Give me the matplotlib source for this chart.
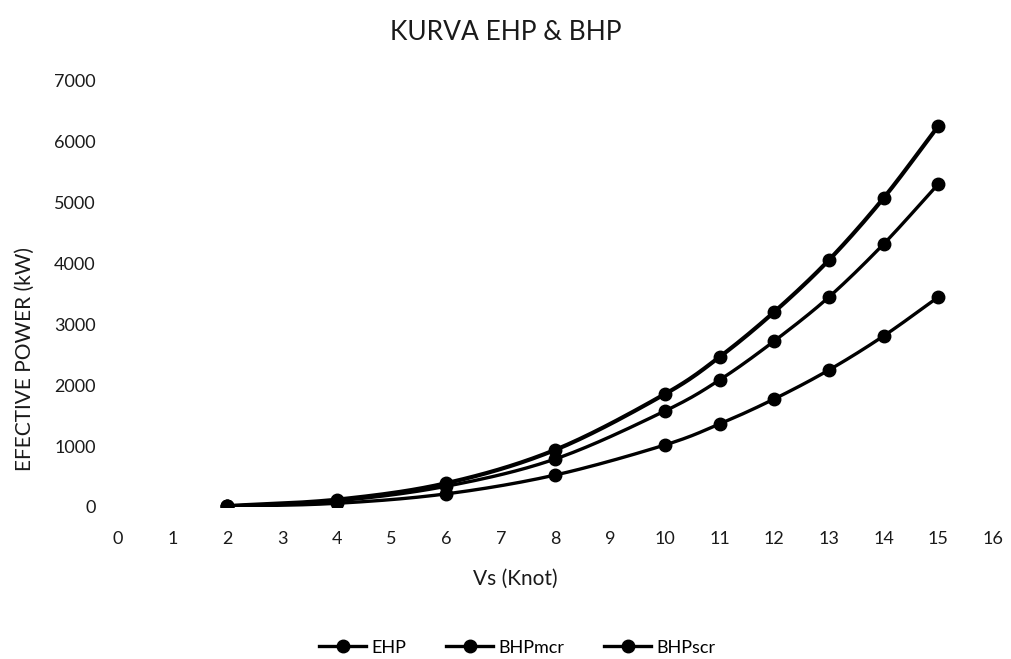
import numpy as np
import matplotlib
matplotlib.use("Agg")
import matplotlib.pyplot as plt

# Data
vs = [2, 4, 6, 8, 10, 11, 12, 13, 14, 15]
ehp = [15, 120, 390, 940, 1855, 2465, 3205, 4058, 5077, 6260]
bhp_mcr = [13, 100, 340, 790, 1577, 2087, 2727, 3450, 4321, 5307]
bhp_scr = [8, 60, 215, 526, 1019, 1364, 1775, 2251, 2810, 3450]
series_names = ["EHP", "BHPmcr", "BHPscr"]
x_ticks = list(range(0, 17))
y_ticks = list(range(0, 7001, 1000))

plt.rcParams['font.family'] = ['Lato', 'DejaVu Sans']

def smooth(x, y, n=20):
    # Catmull-Rom style smoothing (display only, like Excel's smoothed line)
    x = np.asarray(x, float); y = np.asarray(y, float)
    px = np.concatenate([[2*x[0]-x[1]], x, [2*x[-1]-x[-2]]])
    py = np.concatenate([[2*y[0]-y[1]], y, [2*y[-1]-y[-2]]])
    xs, ys = [], []
    t = np.linspace(0, 1, n)
    for i in range(1, len(px)-2):
        p0, p1, p2, p3 = [np.array([px[j], py[j]]) for j in (i-1, i, i+1, i+2)]
        c1 = p1 + (p2 - p0) / 6.0
        c2 = p2 - (p3 - p1) / 6.0
        b = ((1-t)**3)[:, None]*p1 + (3*(1-t)**2*t)[:, None]*c1 + (3*(1-t)*t**2)[:, None]*c2 + (t**3)[:, None]*p2
        xs.extend(b[:, 0]); ys.extend(b[:, 1])
    return xs, ys

fig = plt.figure(figsize=(10.11, 6.59), dpi=100)
ax = fig.add_axes([0.1167, 0.2307, 0.8655, 0.6464])

for name, vals, lw in zip(series_names, [ehp, bhp_mcr, bhp_scr], [3.0, 2.4, 2.4]):
    sx, sy = smooth(vs, vals)
    ax.plot(sx, sy, color='black', lw=lw, solid_capstyle='round')
    ax.plot(vs, vals, 'o', color='black', ms=9)
    ax.plot([], [], '-o', color='black', lw=2.4, ms=9, label=name)

ax.set_xlim(0, 16)
ax.set_ylim(0, 7000)
ax.set_xticks(x_ticks)
ax.set_yticks(y_ticks)
ax.tick_params(length=0, labelsize=13, colors='#1a1a1a')
ax.tick_params(axis='x', pad=17)
ax.tick_params(axis='y', pad=16)
for s in ax.spines.values():
    s.set_visible(False)

fig.text(0.5, 0.95, "KURVA EHP & BHP", ha='center', va='center', fontsize=19, color='#1a1a1a')
fig.text(0.51, 0.122, "Vs (Knot)", ha='center', va='center', fontsize=15, color='#1a1a1a')
fig.text(0.025, 0.455, "EFECTIVE POWER (kW)", ha='center', va='center', rotation=90, fontsize=15, color='#1a1a1a')

leg = fig.legend(loc='center', bbox_to_anchor=(0.512, 0.017), ncol=3, frameon=False,
                 fontsize=13, handlelength=2.6, columnspacing=2.2, handletextpad=0.3)

fig.savefig("out.png", dpi=100)
